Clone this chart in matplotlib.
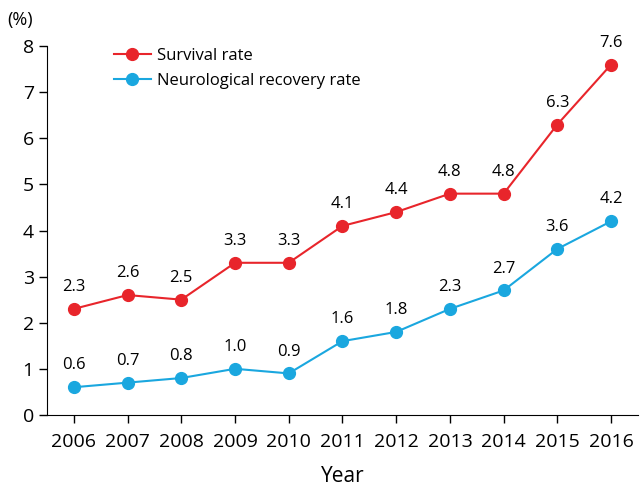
import matplotlib
matplotlib.use("Agg")
import matplotlib.pyplot as plt
from matplotlib import font_manager

names = {f.name for f in font_manager.fontManager.ttflist}
fam = "Liberation Sans Narrow" if "Liberation Sans Narrow" in names else "Open Sans"
plt.rcParams['font.family'] = [fam, 'DejaVu Sans']

years = [2006, 2007, 2008, 2009, 2010, 2011, 2012, 2013, 2014, 2015, 2016]
survival = [2.3, 2.6, 2.5, 3.3, 3.3, 4.1, 4.4, 4.8, 4.8, 6.3, 7.6]
neuro = [0.6, 0.7, 0.8, 1.0, 0.9, 1.6, 1.8, 2.3, 2.7, 3.6, 4.2]
red = "#e8252b"
blue = "#1aa7df"

fig = plt.figure(figsize=(6.43, 4.91), dpi=100)
ax = fig.add_axes([0.0731, 0.155, 0.919, 0.751])
ax.plot(years, survival, color=red, lw=1.5, marker='o', ms=8.5, label="Survival rate")
ax.plot(years, neuro, color=blue, lw=1.5, marker='o', ms=8.5, label="Neurological recovery rate")
for x, y in zip(years, survival):
    ax.annotate(f"{y:.1f}", (x, y), xytext=(0, 10), textcoords='offset points',
                ha='center', va='bottom', fontsize=12)
for x, y in zip(years, neuro):
    ax.annotate(f"{y:.1f}", (x, y), xytext=(0, 10), textcoords='offset points',
                ha='center', va='bottom', fontsize=12)

ax.set_xlim(2005.5, 2016.5)
ax.set_ylim(0, 8)
ax.set_xticks(years)
ax.set_yticks(range(0, 9))
ax.tick_params(labelsize=14, length=6, width=1)
ax.tick_params(axis='x', pad=7)
for s in ['top', 'right']:
    ax.spines[s].set_visible(False)
ax.set_xlabel("Year", fontsize=15, labelpad=11)
fig.text(0.012, 0.96, "(%)", fontsize=13, ha='left', va='center')
ax.legend(loc='upper left', bbox_to_anchor=(0.088, 1.035), frameon=False, fontsize=12,
          handlelength=2.2, labelspacing=0.5, handletextpad=0.4)
fig.savefig("out.png", dpi=100)
